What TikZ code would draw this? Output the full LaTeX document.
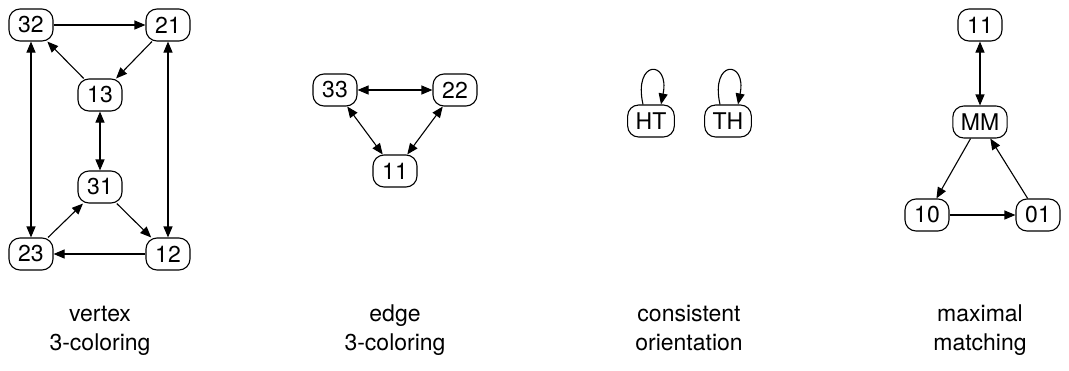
\documentclass[tikz,border=0pt]{standalone}
\usepackage{fontspec}
\setmainfont{TeX Gyre Heros}
\usetikzlibrary{arrows.meta}
\begin{document}
\begin{tikzpicture}[x=1pt,y=-1pt,
  st/.style={draw,rectangle,rounded corners=11pt,line width=1.1pt,
    minimum width=44pt,minimum height=32pt,inner xsep=8pt,inner ysep=2pt,
    font=\fontsize{23}{23}\selectfont},
  arr/.style={line width=1.1pt,-{Triangle[length=11pt,width=9pt]}},
  both/.style={line width=1.1pt,{Triangle[length=11pt,width=9pt]}-{Triangle[length=11pt,width=9pt]}},
  lbl/.style={align=center,anchor=base,font=\fontsize{23}{29}\selectfont}]
\useasboundingbox (0,0) rectangle (1069,370);

% vertex 3-coloring
\node[st] (v32) at (31,25) {32};
\node[st] (v21) at (168,25) {21};
\node[st] (v13) at (100,95) {13};
\node[st] (v31) at (100,187) {31};
\node[st] (v23) at (31,254) {23};
\node[st] (v12) at (168,254) {12};
\draw[arr] (v32) -- (v21);
\draw[arr] (v21) -- (v13);
\draw[arr] (v13) -- (v32);
\draw[both] (v13) -- (v31);
\draw[both] (v32) -- (v23);
\draw[both] (v21) -- (v12);
\draw[arr] (v31) -- (v12);
\draw[arr] (v23) -- (v31);
\draw[arr] (v12) -- (v23);
\node[lbl] (c1) at (100,350) {vertex\\3-coloring};

% edge 3-coloring
\node[st] (e33) at (335,90) {33};
\node[st] (e22) at (455,90) {22};
\node[st] (e11) at (395,171) {11};
\draw[both] (e33) -- (e22);
\draw[both] (e33) -- (e11);
\draw[both] (e22) -- (e11);
\node[lbl] (c2) at (395,350) {edge\\3-coloring};

% consistent orientation
\node[st] (ht) at (651,121) {HT};
\node[st] (th) at (728,121) {TH};
\draw[arr] ([xshift=-8pt]ht.north) .. controls +(-10,-45) and +(9,-45) .. ([xshift=10pt]ht.north);
\draw[arr] ([xshift=-8pt]th.north) .. controls +(-10,-45) and +(9,-45) .. ([xshift=10pt]th.north);
\node[lbl] (c3) at (689,350) {consistent\\orientation};

% maximal matching
\node[st] (m11) at (980,25) {11};
\node[st] (mm) at (980,122) {MM};
\node[st] (m10) at (927,215) {10};
\node[st] (m01) at (1038,215) {01};
\draw[both] (m11) -- (mm);
\draw[arr] (mm) -- (m10);
\draw[arr] (m10) -- (m01);
\draw[arr] (m01) -- (mm);
\node[lbl] (c4) at (980,350) {maximal\\matching};
\end{tikzpicture}
\end{document}
